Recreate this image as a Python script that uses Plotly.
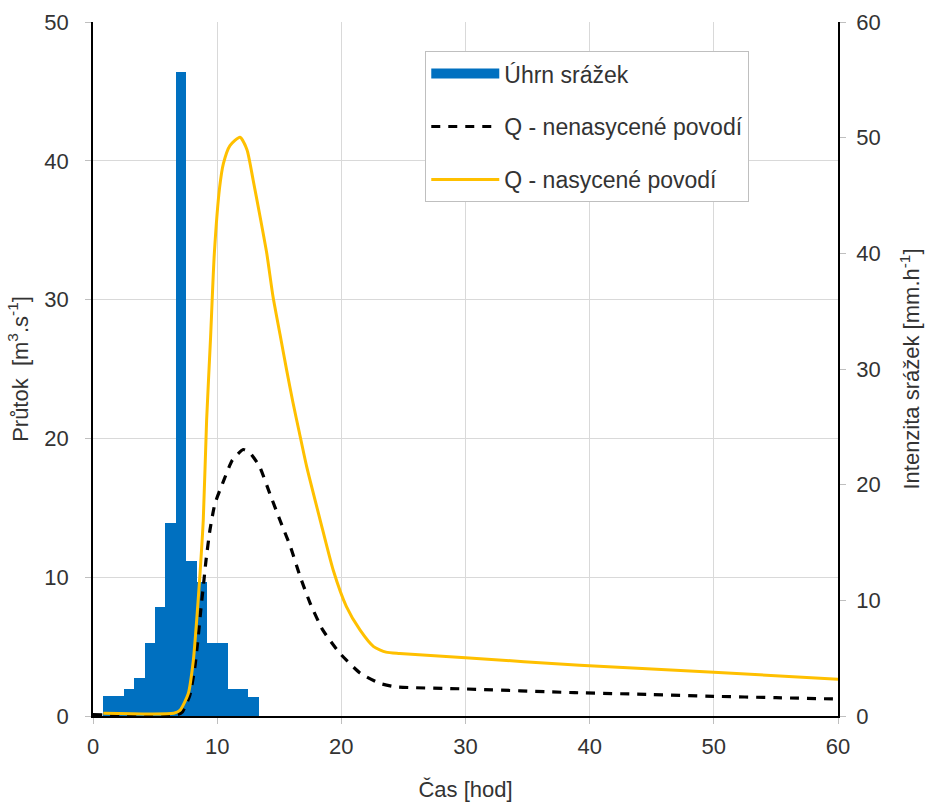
import plotly.graph_objects as go

# Rainfall intensity bars (mm/h), 50-min steps
bar_t = [1.25, 2.08, 2.92, 3.75, 4.58, 5.42, 6.25, 7.08, 7.92, 8.75, 9.58, 10.42, 11.25, 12.08, 12.92]
bar_i = [1.7, 1.7, 2.35, 3.3, 6.35, 9.4, 16.7, 55.7, 13.4, 11.6, 6.35, 6.35, 2.35, 2.35, 1.6]
bar_w = 5 / 6

# Q - unsaturated catchment
t_uns = [0, 6.8, 7.2, 7.8, 8.2, 8.45, 8.7, 8.88, 9.1, 9.42, 9.82, 10.5, 11.2, 12.1, 12.6, 13.4, 14.25,
         15.06, 15.9, 16.7, 17.5, 18.5, 19.9, 21.5, 23.1, 24.4, 30, 38.8, 45, 50, 55, 60]
q_uns = [0.1, 0.1, 0.3, 1.5, 3.5, 5.5, 7.8, 9.3, 11.2, 13.4, 15.3, 16.9, 18.4, 19.2, 19.0, 18.0, 16.0,
         14.1, 12.2, 10.0, 8.1, 6.2, 4.5, 3.1, 2.35, 2.1, 1.95, 1.68, 1.55, 1.42, 1.32, 1.22]

# Q - saturated catchment
t_sat = [0.83, 6.5, 7.0, 7.67, 8.08, 8.35, 8.6, 8.88, 9.15, 9.47, 9.77, 10.2, 10.5, 11.03, 11.84, 12.4,
         12.9, 13.45, 14.0, 14.5, 15.06, 15.6, 16.1, 16.6, 17.2, 18.3, 19.35, 20.4, 21.5, 22.6, 23.6, 24.7,
         30, 39.2, 50, 60]
q_sat = [0.2, 0.2, 0.4, 1.6, 4.0, 6.9, 10.0, 14.1, 21.3, 27.3, 33.3, 38.1, 39.8, 41.1, 41.7, 40.8,
         38.6, 36.0, 33.3, 30.2, 27.5, 24.9, 22.6, 20.5, 18.0, 14.1, 10.5, 7.9, 6.2, 5.0, 4.6, 4.5,
         4.2, 3.65, 3.15, 2.65]

x_ticks = [0, 10, 20, 30, 40, 50, 60]
yl_ticks = [0, 10, 20, 30, 40, 50]
yr_ticks = [0, 10, 20, 30, 40, 50, 60]

BLUE = "#0070C0"
YELLOW = "#FFC000"
GRID = "#d9d9d9"
TXT = "#333333"
FONT = "Liberation Sans, Arial, sans-serif"
TICK = 22
TITLE = 22

fig = go.Figure()
fig.add_trace(go.Bar(x=bar_t, y=bar_i, width=bar_w, marker=dict(color=BLUE, line=dict(width=0)),
                     yaxis="y", showlegend=False, name="Úhrn srážek"))
# legend proxy for bars
fig.add_trace(go.Scatter(x=[None], y=[None], mode="lines", line=dict(color=BLUE, width=11),
                         name="Úhrn srážek", yaxis="y2", legendgroup="a"))
fig.add_trace(go.Scatter(x=t_uns, y=q_uns, mode="lines",
                         line=dict(color="black", width=3.2, dash="9px,8px", shape="spline", smoothing=0.5),
                         name="Q - nenasycené povodí", yaxis="y2", legendgroup="b"))
fig.add_trace(go.Scatter(x=t_sat, y=q_sat, mode="lines",
                         line=dict(color=YELLOW, width=3, shape="spline", smoothing=0.6),
                         name="Q - nasycené povodí", yaxis="y2", legendgroup="c"))

fig.update_layout(
    width=926, height=802,
    margin=dict(l=93, r=88, t=22, b=86, autoexpand=False),
    plot_bgcolor="white", paper_bgcolor="white",
    font=dict(family=FONT, size=TICK, color=TXT),
    bargap=0,
    xaxis=dict(range=[0, 60], tickvals=x_ticks, showgrid=True, gridcolor=GRID, gridwidth=1,
               showline=True, linecolor="black", linewidth=1.5, zeroline=False, automargin=False,
               ticks="outside", ticklen=6, tickcolor="#bfbfbf", ticklabelstandoff=4,
               tickfont=dict(size=TICK, color=TXT),
               title=dict(text="Čas [hod]", font=dict(size=TITLE, color=TXT), standoff=23)),
    yaxis=dict(range=[0, 60], side="right", tickvals=yr_ticks, automargin=False,
               showgrid=False, zeroline=False, showline=True, linecolor="black", linewidth=1.5,
               ticks="outside", ticklen=6, tickcolor="#bfbfbf", ticklabelstandoff=6,
               minor=dict(tickvals=[12, 24, 36, 48], showgrid=True, gridcolor=GRID, gridwidth=1, ticks=""),
               tickfont=dict(size=TICK, color=TXT),
               title=dict(text="Intenzita srážek [mm.h<sup>-1</sup>]", font=dict(size=TITLE, color=TXT), standoff=24)),
    yaxis2=dict(range=[0, 50], side="left", overlaying="y", tickvals=yl_ticks, automargin=False,
                showgrid=False, zeroline=False, showline=True, linecolor="black", linewidth=1.5,
                ticks="outside", ticklen=6, tickcolor="#bfbfbf", ticklabelstandoff=12,
                tickfont=dict(size=TICK, color=TXT),
                title=dict(text="Průtok  [m<sup>3</sup>.s<sup>-1</sup>]", font=dict(size=TITLE, color=TXT), standoff=10)),
    legend=dict(x=0.446, y=0.958, xanchor="left", yanchor="top",
                bgcolor="white", bordercolor="#bfbfbf", borderwidth=1,
                font=dict(size=23, color=TXT), traceorder="grouped", tracegroupgap=20,
                itemwidth=68),
)

fig.write_html("out.html")
